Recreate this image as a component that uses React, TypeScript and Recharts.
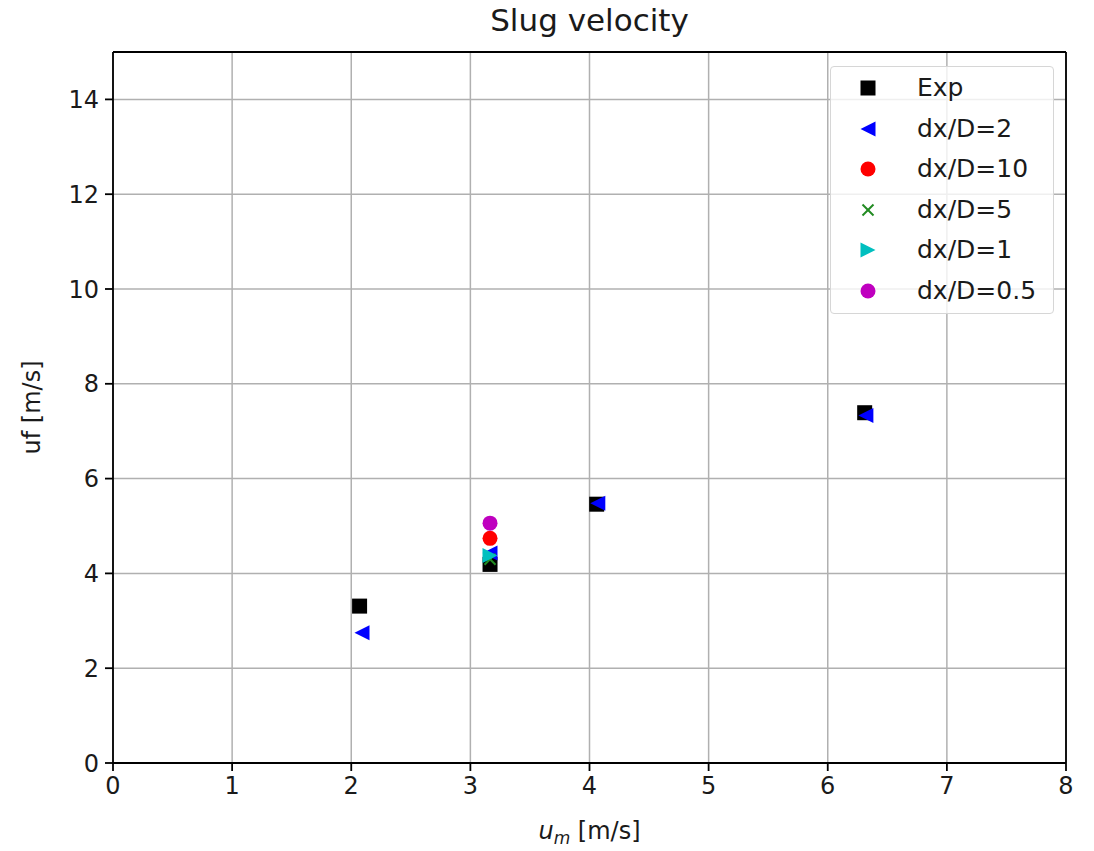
import React from "react";
import {
  ScatterChart,
  Scatter,
  XAxis,
  YAxis,
  CartesianGrid,
  ReferenceLine,
} from "recharts";

const FONT = "DejaVu Sans, sans-serif";
const FS = 24;
const TICK = { fill: "#1a1a1a", fontSize: FS, fontFamily: FONT };
const GRID = "#b0b0b0";

const xTicks = [0, 1, 2, 3, 4, 5, 6, 7, 8];
const yTicks = [0, 2, 4, 6, 8, 10, 12, 14];

const expData = [
  { x: 2.07, y: 3.31 },
  { x: 3.165, y: 4.19 },
  { x: 4.06, y: 5.46 },
  { x: 6.31, y: 7.39 },
];
const dx2Data = [
  { x: 2.09, y: 2.75 },
  { x: 3.165, y: 4.43 },
  { x: 4.07, y: 5.48 },
  { x: 6.32, y: 7.33 },
];
const dx10Data = [{ x: 3.165, y: 4.74 }];
const dx5Data = [{ x: 3.165, y: 4.3 }];
const dx1Data = [{ x: 3.165, y: 4.38 }];
const dx05Data = [{ x: 3.165, y: 5.06 }];

type Kind = "square" | "left" | "circle" | "x" | "right";

function marker(kind: Kind, cx: number, cy: number, color: string) {
  const s = 7.5;
  if (kind === "square")
    return <rect x={cx - s} y={cy - s} width={2 * s} height={2 * s} fill={color} />;
  if (kind === "circle") return <circle cx={cx} cy={cy} r={s} fill={color} />;
  if (kind === "left")
    return <polygon points={`${cx - s},${cy} ${cx + s},${cy - s} ${cx + s},${cy + s}`} fill={color} />;
  if (kind === "right")
    return <polygon points={`${cx + s},${cy} ${cx - s},${cy - s} ${cx - s},${cy + s}`} fill={color} />;
  const d = 5.5;
  return (
    <g stroke={color} strokeWidth={2}>
      <line x1={cx - d} y1={cy - d} x2={cx + d} y2={cy + d} />
      <line x1={cx - d} y1={cy + d} x2={cx + d} y2={cy - d} />
    </g>
  );
}

const series: { name: string; data: { x: number; y: number }[]; kind: Kind; color: string }[] = [
  { name: "Exp", data: expData, kind: "square", color: "#000000" },
  { name: "dx/D=2", data: dx2Data, kind: "left", color: "#0000ff" },
  { name: "dx/D=10", data: dx10Data, kind: "circle", color: "#ff0000" },
  { name: "dx/D=5", data: dx5Data, kind: "x", color: "#228b22" },
  { name: "dx/D=1", data: dx1Data, kind: "right", color: "#00bfbf" },
  { name: "dx/D=0.5", data: dx05Data, kind: "circle", color: "#bf00bf" },
];

function LegendBox() {
  return (
    <div
      style={{
        position: "absolute",
        left: 830,
        top: 66,
        boxSizing: "border-box",
        background: "rgba(255,255,255,0.8)",
        border: "1px solid #d6d6d6",
        borderRadius: 4,
        width: 224,
        height: 248,
        fontFamily: FONT,
        fontSize: 25,
        color: "#1a1a1a",
      }}
    >
      {series.map((s, i) => (
        <div
          key={s.name}
          style={{ position: "absolute", left: 0, top: 21 + i * 40.5 - 16, height: 32, display: "flex", alignItems: "center" }}
        >
          <svg width={86} height={32} style={{ flex: "none" }}>
            {marker(s.kind, 37, 16, s.color)}
          </svg>
          <span style={{ lineHeight: "32px" }}>{s.name}</span>
        </div>
      ))}
    </div>
  );
}

function XLabel(props: any) {
  const vb = props.viewBox;
  const cx = vb.x + vb.width / 2;
  return (
    <text x={cx} y={vb.y + 76} textAnchor="middle" fontFamily={FONT} fontSize={FS} fill="#1a1a1a">
      <tspan fontStyle="italic">u</tspan>
      <tspan fontStyle="italic" fontSize={17} dy={5}>m</tspan>
      <tspan dy={-5}> [m/s]</tspan>
    </text>
  );
}

export default function App() {
  return (
    <div style={{ position: "absolute", left: 0, top: 0, width: 1094, height: 851, background: "#fff" }}>
      <div
        style={{
          position: "absolute",
          left: 113,
          width: 953,
          top: 2,
          textAlign: "center",
          fontFamily: FONT,
          fontSize: 31,
          color: "#1a1a1a",
        }}
      >
        Slug velocity
      </div>
      <ScatterChart width={1094} height={851} margin={{ top: 52, right: 28, bottom: 8, left: 53 }}>
        <CartesianGrid stroke={GRID} strokeWidth={1.5} />
        <XAxis
          type="number"
          dataKey="x"
          domain={[0, 8]}
          ticks={xTicks}
          tick={TICK}
          tickSize={8}
          tickMargin={6}
          height={80}
          axisLine={{ stroke: "#000", strokeWidth: 1.8 }}
          tickLine={{ stroke: "#000", strokeWidth: 1.8 }}
          allowDataOverflow
          label={<XLabel />}
        />
        <YAxis
          type="number"
          dataKey="y"
          domain={[0, 15]}
          ticks={yTicks}
          tick={TICK}
          tickSize={8}
          tickMargin={6}
          width={60}
          axisLine={{ stroke: "#000", strokeWidth: 1.8 }}
          tickLine={{ stroke: "#000", strokeWidth: 1.8 }}
          allowDataOverflow
          label={{
            value: "uf [m/s]",
            angle: -90,
            position: "insideLeft",
            offset: -22,
            style: { fontFamily: FONT, fontSize: FS, fill: "#1a1a1a", textAnchor: "middle" },
          }}
        />
        <ReferenceLine y={15} stroke="#000" strokeWidth={1.8} />
        <ReferenceLine x={8} stroke="#000" strokeWidth={1.8} />
        {series.map((s) => (
          <Scatter
            key={s.name}
            name={s.name}
            data={s.data}
            fill={s.color}
            isAnimationActive={false}
            shape={(p: any) => marker(s.kind, p.cx, p.cy, s.color)}
          />
        ))}
      </ScatterChart>
      <LegendBox />
    </div>
  );
}
